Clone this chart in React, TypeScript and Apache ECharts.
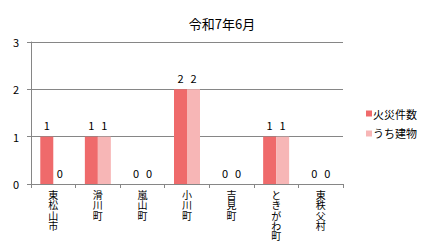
import React, { useEffect, useRef } from "react";
import * as echarts from "echarts";

const title = "令和7年6月";
const categories = ["東松山市", "滑川町", "嵐山町", "小川町", "吉見町", "ときがわ町", "東秩父村"];
const seriesNames = ["火災件数", "うち建物"];
const fires = [1, 1, 0, 2, 0, 1, 0];
const buildings = [0, 1, 0, 2, 0, 1, 0];
const yTicks = [0, 1, 2, 3];

const FONT = "'Noto Sans CJK JP', 'Noto Sans', sans-serif";

export default function App() {
  const ref = useRef<HTMLDivElement>(null);
  useEffect(() => {
    if (!ref.current) return;
    const chart = echarts.init(ref.current, null, { renderer: "svg" });
    const labelStyle = {
      show: true,
      position: "top" as const,
      distance: 6,
      fontSize: 11,
      color: "#000",
      fontFamily: FONT,
    };
    chart.setOption({
      animation: false,
      backgroundColor: "#fff",
      textStyle: { fontFamily: FONT },
      title: {
        text: title,
        left: 217,
        top: 12,
        textAlign: "center",
        textStyle: { fontSize: 13, fontWeight: "normal", color: "#000", fontFamily: FONT },
      },
      legend: {
        orient: "vertical",
        left: 361,
        top: 103,
        icon: "rect",
        itemWidth: 6,
        itemHeight: 6,
        itemGap: 9,
        textStyle: { fontSize: 11, color: "#000", fontFamily: FONT, padding: [0, 0, 0, -4] },
        data: seriesNames,
      },
      grid: { left: 31, right: 82, top: 42, bottom: 60 },
      xAxis: {
        type: "category",
        data: categories,
        axisLine: { lineStyle: { color: "#868686" } },
        axisTick: { show: true, length: 4, lineStyle: { color: "#868686" } },
        axisLabel: {
          interval: 0,
          margin: 5,
          fontSize: 10,
          lineHeight: 10.4,
          color: "#000",
          fontFamily: FONT,
          formatter: (v: string) => v.split("").join("\n"),
        },
      },
      yAxis: {
        type: "value",
        min: yTicks[0],
        max: yTicks[yTicks.length - 1],
        interval: 1,
        axisLine: { show: true, lineStyle: { color: "#868686" } },
        axisTick: { show: true, length: 4, lineStyle: { color: "#868686" } },
        splitLine: { lineStyle: { color: "#868686" } },
        axisLabel: { fontSize: 11, color: "#000", margin: 12, fontFamily: FONT },
      },
      series: [
        {
          name: seriesNames[0],
          type: "bar",
          data: fires,
          barWidth: 13,
          barGap: "0%",
          itemStyle: { color: "#EF6A6B" },
          label: labelStyle,
        },
        {
          name: seriesNames[1],
          type: "bar",
          data: buildings,
          barWidth: 13,
          barGap: "0%",
          itemStyle: { color: "#F7B6B6" },
          label: labelStyle,
        },
      ],
    });
    return () => chart.dispose();
  }, []);
  return (
    <div
      ref={ref}
      style={{ position: "absolute", left: 0, top: 0, width: 425, height: 244 }}
    />
  );
}
